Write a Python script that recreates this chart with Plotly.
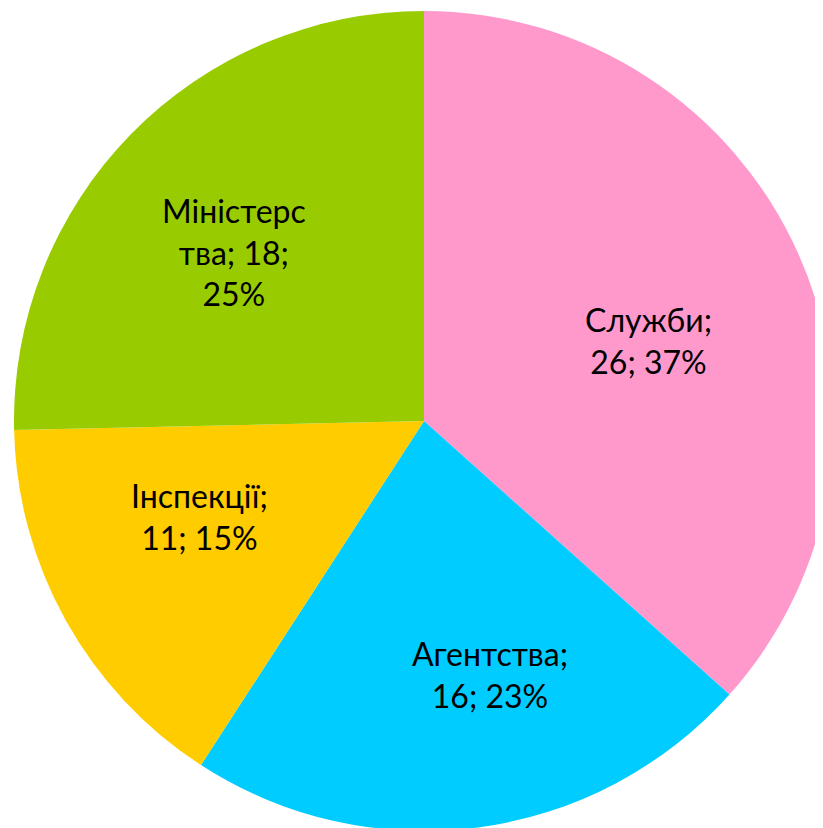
import numpy as np
import plotly.graph_objects as go

categories = ["Служби", "Агентства", "Інспекції", "Міністерства"]
values = [26, 16, 11, 18]
label_lines = ["Служби;<br>26; 37%", "Агентства;<br>16; 23%", "Інспекції;<br>11; 15%", "Міністерс<br>тва; 18;<br>25%"]
colors = ["#FF99CC", "#00CCFF", "#FFCC00", "#99CC00"]

# label placement tweaks (pixels, y downward) relative to 0.6R at mid-angle
label_nudge = [(0, 20), (33, 10), (-10, -24), (-14, 3)]

W, H = 848, 842
CX, CY, R = 416, 413, 410  # pie centre / radius in figure pixels

fig = go.Figure(go.Pie(
    labels=categories, values=values, sort=False, direction="clockwise", rotation=0,
    marker=dict(colors=colors, line=dict(width=0)),
    textinfo="none", hoverinfo="label+value+percent", showlegend=False,
    domain=dict(x=[(CX - R) / W, (CX + R) / W], y=[(H - CY - R) / H, (H - CY + R) / H]),
))

vals = np.array(values, dtype=float)
cum = np.concatenate([[0], np.cumsum(vals)]) / vals.sum()
for i, txt in enumerate(label_lines):
    frac = (cum[i] + cum[i + 1]) / 2
    ang = np.pi / 2 - 2 * np.pi * frac
    px = CX + 0.6 * R * np.cos(ang) + label_nudge[i][0]
    py = CY - 0.6 * R * np.sin(ang) + label_nudge[i][1]
    fig.add_annotation(x=px / W, y=1 - py / H, xref="paper", yref="paper", text=txt,
                       showarrow=False, xanchor="center", yanchor="middle",
                       font=dict(family="Lato", size=32, color="#000000"))

fig.update_layout(width=W, height=H, margin=dict(l=0, r=0, t=0, b=0),
                  paper_bgcolor="white", plot_bgcolor="white")
fig.write_html("out.html")
